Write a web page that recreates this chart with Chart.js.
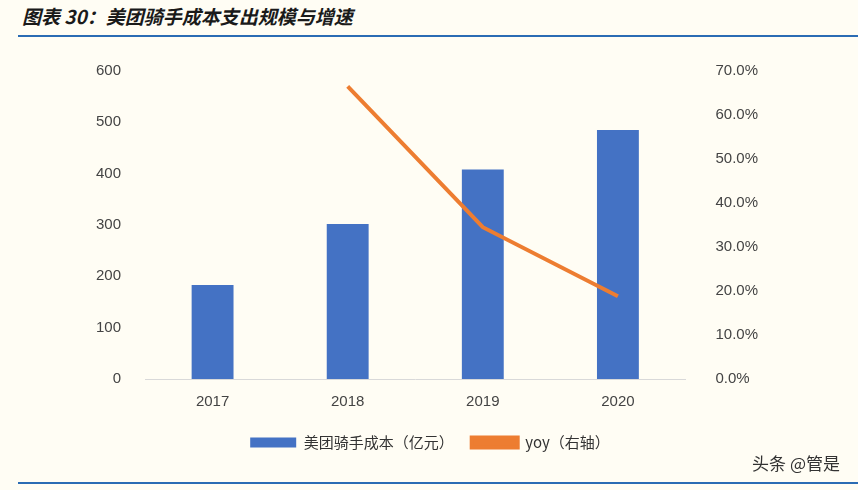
<!DOCTYPE html>
<html><head><meta charset="utf-8">
<script src="https://cdn.jsdelivr.net/npm/chart.js@4"></script>
<style>
body{margin:0;background:#fffdf4;}
#title{position:absolute;left:22px;top:2px;font:italic bold 19px "Noto Sans CJK SC";color:#1a1a1a;}
#top{position:absolute;left:18px;top:35px;width:840px;height:2px;background:#2b6cb4;}
#bot{position:absolute;left:18px;top:482px;width:840px;height:2px;background:#2b6cb4;}
#wm{position:absolute;right:18px;top:450px;font:17px "Noto Sans CJK SC";color:#333;}
#box{position:absolute;left:80px;top:40px;width:700px;height:420px;}
</style></head><body>
<div id="title">图表 30：美团骑手成本支出规模与增速</div>
<div id="top"></div><div id="bot"></div>
<div id="box"><canvas id="myChart"></canvas></div>
<div id="wm">头条 @管是</div>
<script>
let years = ["2017", "2018", "2019", "2020"];
let cost = [183, 302, 408, 485];
let yoy = [null, 66.5, 34.5, 18.8];

let ctx = document.getElementById("myChart").getContext("2d");
let myChart = new Chart(ctx, {
  type: "bar",
  data: {
    labels: years,
    datasets: [
      {
        label: "美团骑手成本（亿元）",
        data: cost,
        backgroundColor: "#4472c4",
        barPercentage: 0.31,
        categoryPercentage: 1,
        yAxisID: "y",
        order: 2,
      },
      {
        label: "yoy（右轴）",
        type: "line",
        data: yoy,
        borderColor: "#ed7d31",
        backgroundColor: "#ed7d31",
        borderWidth: 4,
        pointRadius: 0,
        yAxisID: "y1",
        order: 1,
      },
    ],
  },
  options: {
    maintainAspectRatio: false,
    animation: false,
    layout: { padding: { left: 0, right: 0, top: 20, bottom: 0 } },
    plugins: {
      legend: {
        position: "bottom",
        labels: {
          color: "#333",
          font: { family: "Noto Sans CJK SC", size: 15 },
          boxWidth: 46, boxHeight: 10, padding: 18,
          sort: (a, b) => a.datasetIndex - b.datasetIndex,
        },
      },
      tooltip: { enabled: false },
    },
    scales: {
      x: {
        grid: { display: false },
        border: { color: "#d9d9d9" },
        ticks: { color: "#444", font: { size: 15, family: "Liberation Sans" }, padding: 6 },
      },
      y: {
        min: 0, max: 600,
        ticks: { stepSize: 100, color: "#444", font: { size: 15, family: "Liberation Sans" }, padding: 16 },
        grid: { display: false },
        border: { display: false },
      },
      y1: {
        position: "right",
        min: 0, max: 70,
        ticks: { stepSize: 10, color: "#444", font: { size: 15, family: "Liberation Sans" }, padding: 22,
          callback: (v) => v.toFixed(1) + "%" },
        grid: { display: false },
        border: { display: false },
      },
    },
  },
});
</script>
</body></html>
